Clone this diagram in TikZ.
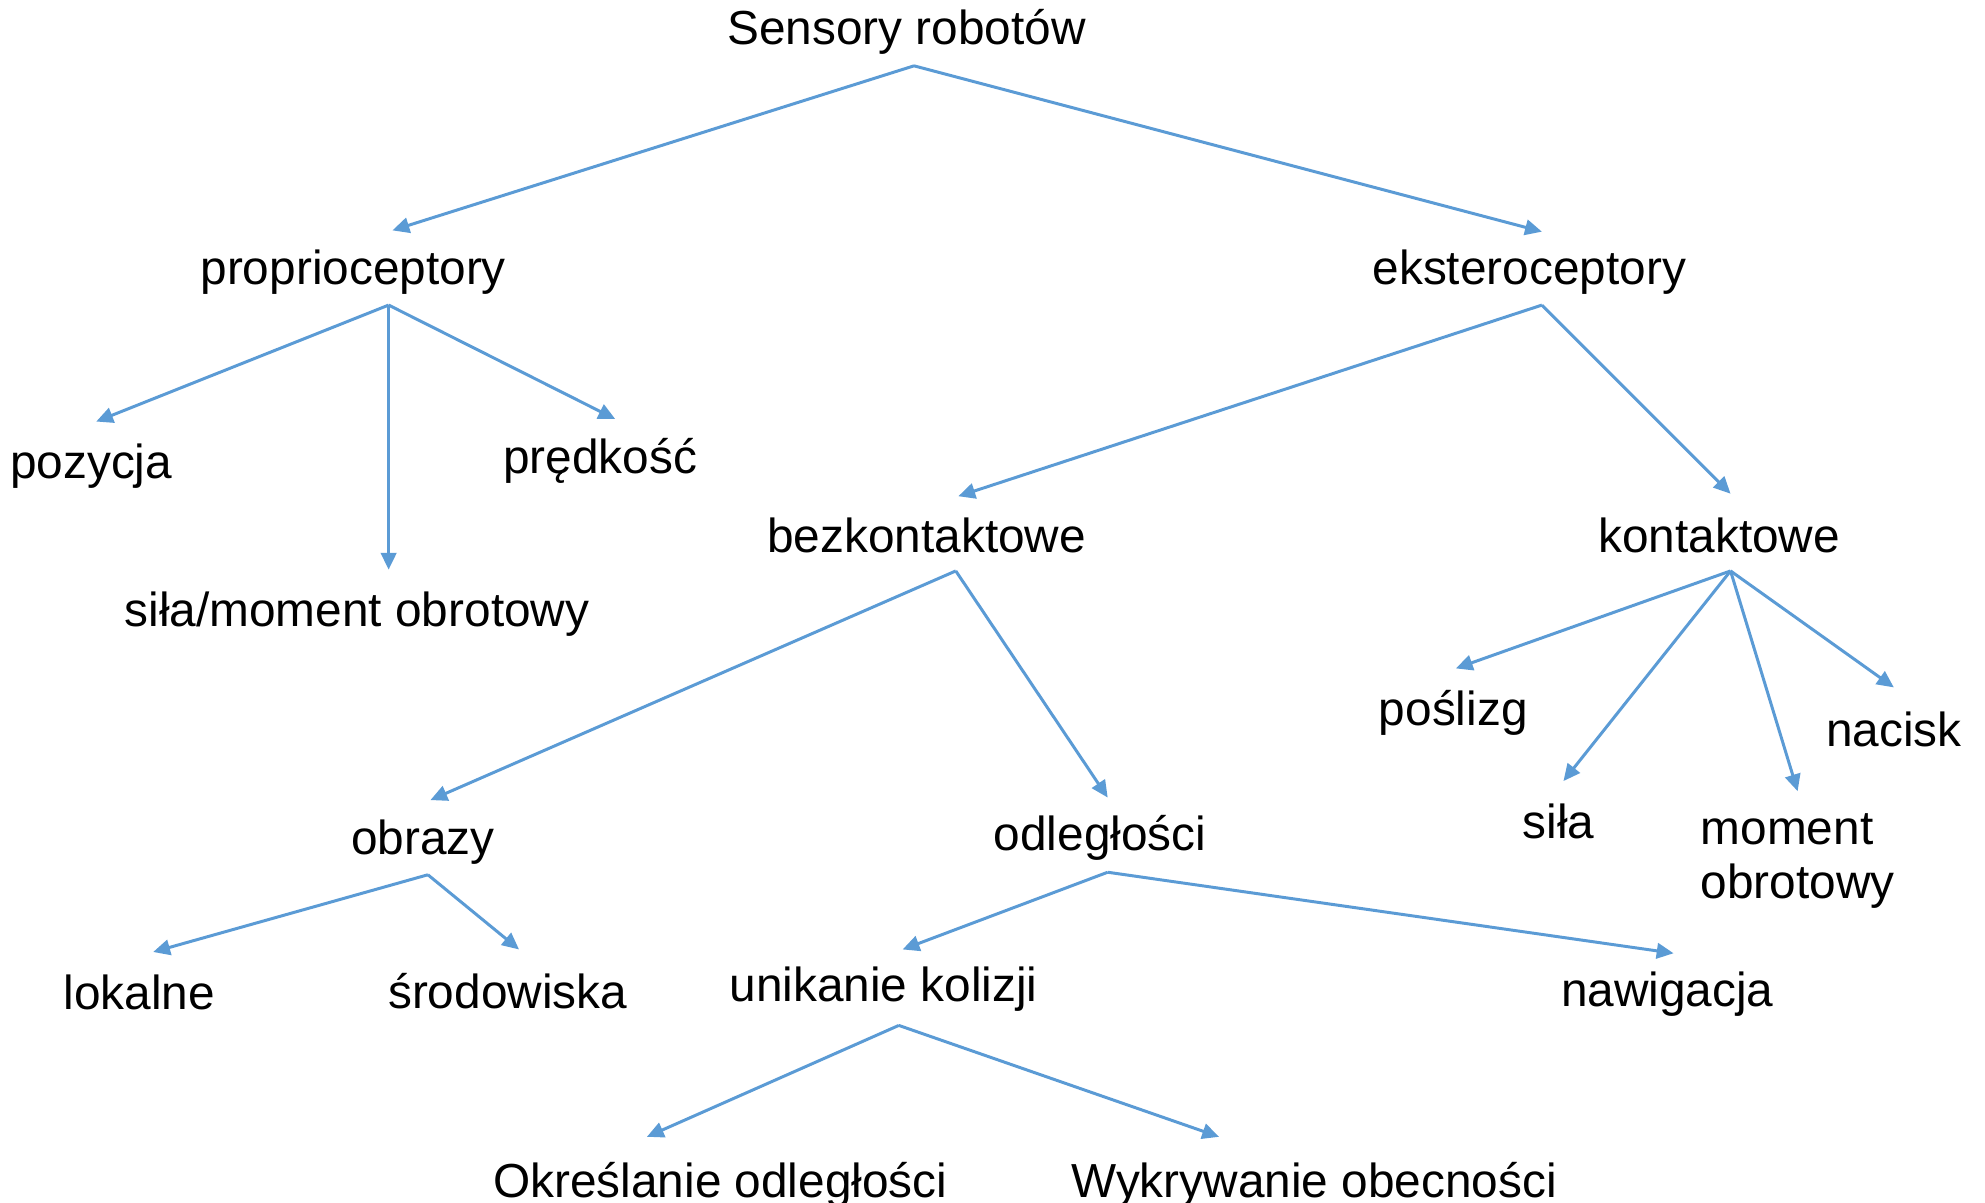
\documentclass[tikz,border=0pt]{standalone}
\usepackage{fontspec}
\setmainfont{Liberation Sans}
\usetikzlibrary{arrows.meta}

\definecolor{linkblue}{HTML}{5B9BD5}

\begin{document}
\begin{tikzpicture}[x = 0.01266cm, y = -0.01266cm,
	> = {Triangle[length = 4.8pt, width = 4.4pt]},
	label/.style = {font = \fontsize{13.6}{15.2}\selectfont, inner sep = 0pt},
	link/.style = {->, draw = linkblue, fill = linkblue, line width = 0.85pt}]

	% Page frame

	\useasboundingbox (0, 0) rectangle (1568, 950);

	% Root

	\node [label] (root) at (716, 25) {Sensory robotów};
	\coordinate (root-out) at (722, 52);

	% First level

	\node [label] (prop) at (279, 215) {proprioceptory};
	\node [label] (ekst) at (1208, 215) {eksteroceptory};
	\coordinate (prop-in) at (310, 182);
	\coordinate (ekst-in) at (1218, 183);
	\coordinate (prop-out) at (307, 241);
	\coordinate (ekst-out) at (1218, 241);

	% Proprioceptors

	\node [label] (poz) at (72, 368) {pozycja};
	\node [label] (pred) at (474, 364) {prędkość};
	\node [label] (sila1) at (282, 485) {siła/moment obrotowy};
	\coordinate (poz-in) at (76, 333);
	\coordinate (pred-in) at (486, 331);
	\coordinate (sila1-in) at (307, 450);

	% Exteroceptors

	\node [label] (bezk) at (732, 423) {bezkontaktowe};
	\node [label] (kont) at (1358, 423) {kontaktowe};
	\coordinate (bezk-in) at (757, 392);
	\coordinate (kont-in) at (1367, 390);
	\coordinate (bezk-out) at (755, 451);
	\coordinate (kont-out) at (1367, 451);

	% Contact sensors

	\node [label] (posl) at (1148, 563) {poślizg};
	\node [label] (sila2) at (1231, 649) {siła};
	\node [label, align = left] (mom) at (1420, 680) {moment\\obrotowy};
	\node [label] (nac) at (1496, 576) {nacisk};
	\coordinate (posl-in) at (1150, 528);
	\coordinate (sila2-in) at (1235, 617);
	\coordinate (mom-in) at (1420, 625);
	\coordinate (nac-in) at (1496, 543);

	% Non-contact sensors

	\node [label] (obr) at (334, 665) {obrazy};
	\node [label] (odl) at (869, 662) {odległości};
	\coordinate (obr-in) at (340, 632);
	\coordinate (odl-in) at (875, 630);
	\coordinate (obr-out) at (338, 691);
	\coordinate (odl-out) at (875, 689);

	% Images and distances

	\node [label] (lok) at (110, 784) {lokalne};
	\node [label] (srod) at (401, 783) {środowiska};
	\node [label] (unik) at (698, 781) {unikanie kolizji};
	\node [label] (naw) at (1317, 785) {nawigacja};
	\coordinate (lok-in) at (121, 752);
	\coordinate (srod-in) at (410, 750);
	\coordinate (unik-in) at (713, 750);
	\coordinate (naw-in) at (1322, 753);
	\coordinate (unik-out) at (710, 810);

	% Collision avoidance

	\node [label] (okr) at (569, 936) {Określanie odległości};
	\node [label] (wykr) at (1038, 936) {Wykrywanie obecności};
	\coordinate (okr-in) at (511, 898);
	\coordinate (wykr-in) at (963, 898);

	% Connectors

	\foreach \a/\b in {root/prop, root/ekst,
			prop/poz, prop/sila1, prop/pred,
			ekst/bezk, ekst/kont,
			bezk/obr, bezk/odl,
			kont/posl, kont/sila2, kont/mom, kont/nac,
			obr/lok, obr/srod,
			odl/unik, odl/naw,
			unik/okr, unik/wykr}
		\draw [link] (\a-out) -- (\b-in);

\end{tikzpicture}
\end{document}
